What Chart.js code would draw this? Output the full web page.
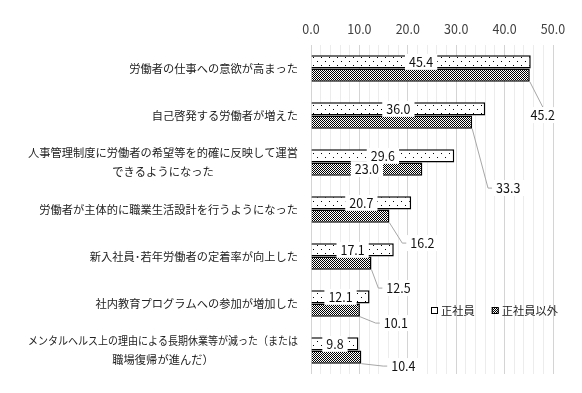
<!DOCTYPE html>
<html lang="ja">
<head>
<meta charset="utf-8">
<script src="https://cdn.jsdelivr.net/npm/chart.js@4.4.0/dist/chart.umd.min.js"></script>
<style>
  html, body { margin: 0; padding: 0; background: #fff; }
  #wrap { width: 582px; height: 393px; }
</style>
</head>
<body>
<div id="wrap"><canvas id="chart" width="582" height="393"></canvas></div>
<script>
// 項目
const categories = [
    '労働者の仕事への意欲が高まった',
    '自己啓発する労働者が増えた',
    ['人事管理制度に労働者の希望等を的確に反映して運営', 'できるようになった'],
    '労働者が主体的に職業生活設計を行うようになった',
    '新入社員･若年労働者の定着率が向上した',
    '社内教育プログラムへの参加が増加した',
    ['メンタルヘルス上の理由による長期休業等が減った（または', '職場復帰が進んだ）']
];
const seriesNames = ['正社員', '正社員以外'];
const seishain = [45.4, 36.0, 29.6, 20.7, 17.1, 12.1, 9.8];
const seishainIgai = [45.2, 33.3, 23.0, 16.2, 12.5, 10.1, 10.4];
const xTicks = [0, 10, 20, 30, 40, 50];

// 正社員以外のラベル位置（棒の先端からのずれ、null は棒の中央）
const labelOffsets = [[13, 40], [36, 66], null, [33, 27], [27, 25], [36, 13], [42, 9]];

const JP_FONT = '"Noto Sans CJK JP", "Noto Sans", sans-serif';

// 塗りつぶしパターン
function makePattern(size, dots) {
    const c = document.createElement('canvas');
    c.width = size; c.height = size;
    const g = c.getContext('2d');
    g.fillStyle = '#fff';
    g.fillRect(0, 0, size, size);
    g.fillStyle = '#000';
    dots.forEach(d => g.fillRect(d[0], d[1], 1, 1));
    return g.createPattern(c, 'repeat');
}
const dotFill = makePattern(8, [[1, 1], [5, 5]]);
const checkFill = makePattern(2, [[0, 0], [1, 1]]);

// 項目名（左側）
const categoryLabels = {
    id: 'categoryLabels',
    afterDraw(chart) {
        const ctx = chart.ctx;
        const yScale = chart.scales.y;
        const right = chart.chartArea.left - 13;
        const maxW = 270;
        ctx.save();
        ctx.font = '11.25px ' + JP_FONT;
        ctx.fillStyle = '#222';
        ctx.textAlign = 'center';
        ctx.textBaseline = 'middle';
        categories.forEach((c, i) => {
            const lines = Array.isArray(c) ? c : [c];
            const w = Math.min(maxW, Math.max(...lines.map(l => ctx.measureText(l).width)));
            const cx = right - w / 2;
            const cy = yScale.getPixelForValue(i);
            lines.forEach((l, j) => {
                ctx.fillText(l, cx, cy + (j - (lines.length - 1) / 2) * 19, maxW);
            });
        });
        ctx.restore();
    }
};

// 数値ラベル
const valueLabels = {
    id: 'valueLabels',
    afterDatasetsDraw(chart) {
        const ctx = chart.ctx;
        ctx.save();
        ctx.font = '12.5px ' + JP_FONT;
        ctx.textAlign = 'center';
        ctx.textBaseline = 'middle';
        chart.data.datasets.forEach((ds, di) => {
            const meta = chart.getDatasetMeta(di);
            meta.data.forEach((bar, i) => {
                const text = ds.data[i].toFixed(1);
                const w = ctx.measureText(text).width;
                const off = di === 1 ? labelOffsets[i] : null;
                let x, y;
                if (off) {
                    x = bar.x + off[0];
                    y = bar.y + off[1];
                    const sx = bar.x, sy = bar.y + bar.height / 2;
                    const lx = x - w / 2 - 3;
                    ctx.strokeStyle = '#a6a6a6';
                    ctx.lineWidth = 1;
                    ctx.beginPath();
                    ctx.moveTo(sx, sy);
                    if (lx - 5 < sx + 4) {
                        ctx.lineTo(x, y - 8);
                    } else {
                        ctx.lineTo(lx - 5, y);
                        ctx.lineTo(lx, y);
                    }
                    ctx.stroke();
                } else {
                    x = (bar.x + bar.base) / 2;
                    y = bar.y;
                }
                ctx.fillStyle = '#fff';
                ctx.fillRect(x - w / 2 - 4, y - 8, w + 8, 16);
                ctx.fillStyle = '#111';
                ctx.fillText(text, x, y);
            });
        });
        ctx.restore();
    }
};

// 凡例（グラフ内右下）
const insideLegend = {
    id: 'insideLegend',
    afterDraw(chart) {
        const ctx = chart.ctx;
        const area = chart.chartArea;
        let x = area.right - 122;
        const y = area.top + 266;
        ctx.save();
        ctx.font = '11.25px ' + JP_FONT;
        ctx.textBaseline = 'middle';
        ctx.textAlign = 'left';
        chart.data.datasets.forEach(ds => {
            ctx.fillStyle = ds.backgroundColor;
            ctx.fillRect(x, y - 4, 7, 7);
            ctx.strokeStyle = '#000';
            ctx.lineWidth = 1;
            ctx.strokeRect(x + 0.5, y - 3.5, 6, 6);
            ctx.fillStyle = '#222';
            ctx.fillText(ds.label, x + 10, y);
            x += 10 + ctx.measureText(ds.label).width + 17;
        });
        ctx.restore();
    }
};

new Chart(document.getElementById('chart'), {
    type: 'bar',
    data: {
        labels: categories,
        datasets: [
            {
                label: seriesNames[0],
                data: seishain,
                backgroundColor: dotFill,
                borderColor: '#000',
                borderWidth: 1.5,
                borderSkipped: 'start'
            },
            {
                label: seriesNames[1],
                data: seishainIgai,
                backgroundColor: checkFill,
                borderColor: '#000',
                borderWidth: 1.5,
                borderSkipped: 'start'
            }
        ]
    },
    options: {
        indexAxis: 'y',
        responsive: false,
        animation: false,
        categoryPercentage: 0.56,
        barPercentage: 1,
        layout: { padding: { top: 20, right: 29, bottom: 19, left: 0 } },
        scales: {
            x: {
                position: 'top',
                min: xTicks[0],
                max: xTicks[xTicks.length - 1],
                afterFit: s => { s.height = 25; },
                border: { display: false },
                grid: {
                    drawTicks: false,
                    color: c => (c.tick && c.tick.value % 10 === 0) ? '#d4d4d4' : '#ececec'
                },
                ticks: {
                    stepSize: 2,
                    autoSkip: false,
                    maxRotation: 0,
                    minRotation: 0,
                    padding: 8,
                    color: '#404040',
                    font: { family: JP_FONT, size: 12.5 },
                    callback: v => xTicks.includes(v) ? v.toFixed(1) : ''
                }
            },
            y: {
                afterFit: s => { s.width = 311; },
                grid: { display: false },
                border: { display: false },
                ticks: { display: false }
            }
        },
        plugins: {
            legend: { display: false },
            tooltip: { enabled: false }
        }
    },
    plugins: [categoryLabels, valueLabels, insideLegend]
});
</script>
</body>
</html>
